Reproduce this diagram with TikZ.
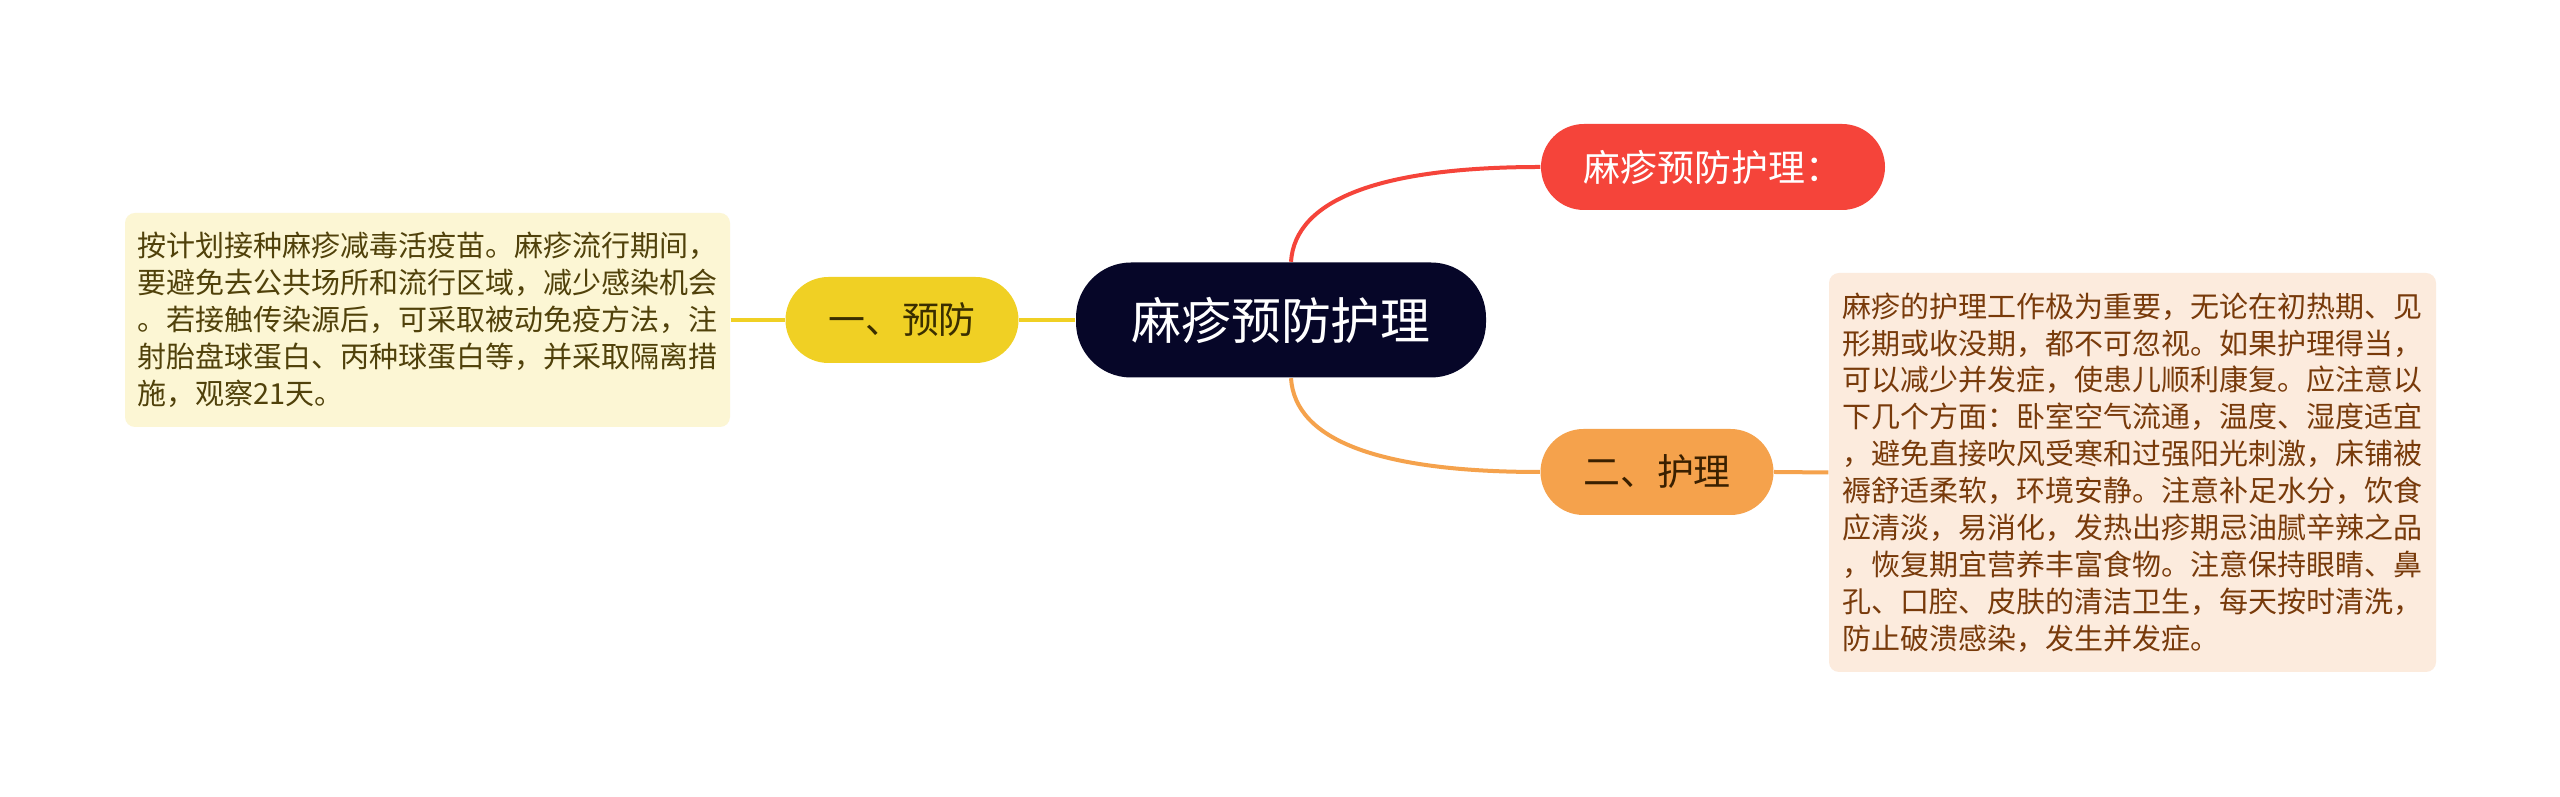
\documentclass[tikz,border=0pt]{standalone}
\usepackage{fontspec}
\newfontfamily\cjk{Noto Sans CJK SC}
\definecolor{rootfill}{RGB}{6,6,40}
\definecolor{yfill}{RGB}{240,208,36}
\definecolor{ytext}{RGB}{58,46,0}
\definecolor{rfill}{RGB}{245,68,58}
\definecolor{ofill}{RGB}{245,162,76}
\definecolor{otext}{RGB}{58,32,0}
\definecolor{lnote}{RGB}{252,246,212}
\definecolor{ltext}{RGB}{80,65,10}
\definecolor{rnote}{RGB}{252,235,221}
\definecolor{rtext}{RGB}{120,58,10}
\begin{document}
\begin{tikzpicture}[x=0.1mm,y=-0.1mm,
	pill/.style={rounded corners=4.3mm,minimum width=23.3mm,minimum height=8.6mm,inner sep=0pt,font={\fontsize{10.5}{12}\selectfont\cjk}},
	note/.style={rounded corners=1mm,inner sep=0pt,align=left,font={\fontsize{8.25}{10.5}\selectfont\cjk}},
	branch/.style={line width=0.4mm}]
	\fill[white] (0,0) rectangle (2560,797); % Rand wie Vorlage
	\node[fill=rootfill,text=white,rounded corners=5.5mm,minimum width=41mm,minimum height=11.5mm,inner sep=0pt,font={\fontsize{14.2}{16}\selectfont\cjk}] (root) at (1281,320) {麻疹预防护理};
	\node[pill,fill=yfill,text=ytext] (prev) at (902,320) {一、预防};
	\node[pill,fill=rfill,text=white,minimum width=34.4mm] (title) at (1713,167) {麻疹预防护理：};
	\node[pill,fill=ofill,text=otext] (care) at (1657,472) {二、护理};
	\node[note,fill=lnote,text=ltext,minimum width=60.5mm,minimum height=21.4mm] (prevnote) at (427.5,320) {按计划接种麻疹减毒活疫苗。麻疹流行期间，\\要避免去公共场所和流行区域，减少感染机会\\。若接触传染源后，可采取被动免疫方法，注\\射胎盘球蛋白、丙种球蛋白等，并采取隔离措\\施，观察21天。};
	\node[note,fill=rnote,text=rtext,minimum width=60.7mm,minimum height=39.9mm] (carenote) at (2132.5,472.5) {麻疹的护理工作极为重要，无论在初热期、见\\形期或收没期，都不可忽视。如果护理得当，\\可以减少并发症，使患儿顺利康复。应注意以\\下几个方面：卧室空气流通，温度、湿度适宜\\，避免直接吹风受寒和过强阳光刺激，床铺被\\褥舒适柔软，环境安静。注意补足水分，饮食\\应清淡，易消化，发热出疹期忌油腻辛辣之品\\，恢复期宜营养丰富食物。注意保持眼睛、鼻\\孔、口腔、皮肤的清洁卫生，每天按时清洗，\\防止破溃感染，发生并发症。};
	% Aeste
	\draw[branch,yfill] (prevnote.east) -- (prev.west);
	\draw[branch,yfill] (prev.east) -- (root.west);
	\draw[branch,rfill] ([xshift=1mm]root.north) .. controls +(4,-62) and +(-161,0) .. (title.west);
	\draw[branch,ofill] ([xshift=1mm]root.south) .. controls +(4,62) and +(-161,0) .. (care.west);
	\draw[branch,ofill] (care.east) -- (carenote.west);
\end{tikzpicture}
\end{document}
